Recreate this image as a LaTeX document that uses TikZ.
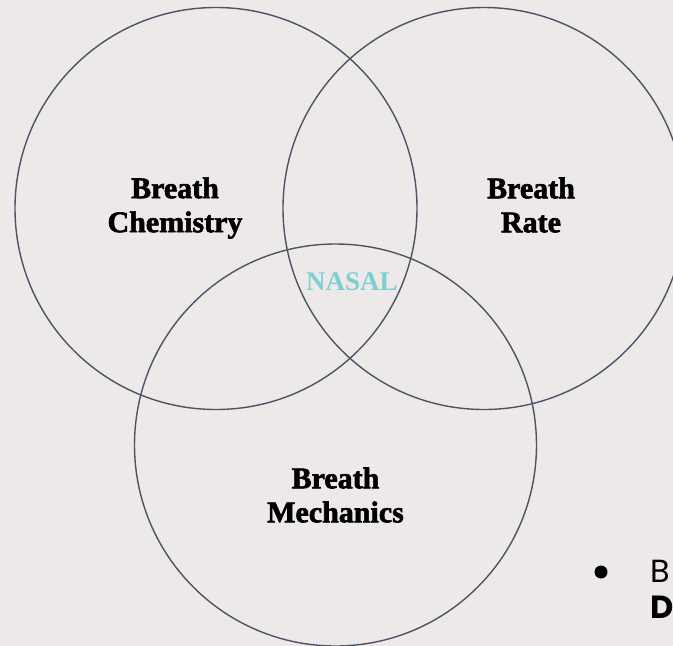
\documentclass[tikz,border=0pt]{standalone}
\usepackage{fontspec}
\setmainfont{Liberation Serif}
\newfontfamily\heavyserif[FakeBold=2]{Liberation Serif Bold}
\newfontfamily\nasalfont{Liberation Serif}
\newfontfamily\popfont{Poppins}
\definecolor{bgc}{HTML}{EDE9E8}
\definecolor{ringc}{HTML}{4A5467}
\definecolor{nasalc}{HTML}{7ED0D0}
\begin{document}
\begin{tikzpicture}[x=1pt,y=-1pt,
  ring/.style={draw=ringc, line width=1.4pt, circle, minimum size=402pt, inner sep=0pt},
  lbl/.style={align=center, font=\heavyserif\fontsize{30}{34}\selectfont, text=black, inner sep=0pt},
  nasallbl/.style={font=\nasalfont\bfseries\fontsize{27}{30}\selectfont, text=nasalc, inner sep=0pt},
  bul/.style={font=\popfont\fontsize{32}{36}\selectfont, anchor=base west, inner sep=0pt}]
\fill[bgc] (0,0) rectangle (673,646);
\useasboundingbox (0,0) rectangle (673,646);
\begin{scope}
\clip (0,0) rectangle (673,646);
\node[ring] (chem) at (216,208.5) {};
\node[ring] (rate) at (484,208.5) {};
\node[ring] (mech) at (335.5,445) {};
\node[lbl] (tchem) at (175,208) {Breath\\Chemistry};
\node[lbl] (trate) at (531,205) {Breath\\Rate};
\node[lbl] (tmech) at (335.5,495) {Breath\\Mechanics};
\node[nasallbl] (tnasal) at (352,282) {NASAL};
\fill[black] (601,572) circle[radius=6.5pt];
\node[bul] (b1) at (650,582) {B};
\node[bul] (b2) at (650,618) {\bfseries D};
\end{scope}
\end{tikzpicture}
\end{document}
